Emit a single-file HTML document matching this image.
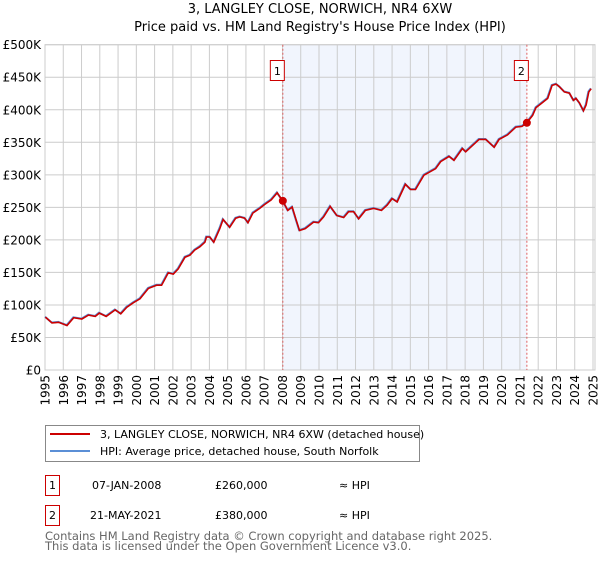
<!DOCTYPE html>
<html><head><meta charset="utf-8"><style>
body{margin:0;background:#fff;font-family:"DejaVu Sans","Liberation Sans",sans-serif;}
svg text{font-family:"DejaVu Sans","Liberation Sans",sans-serif;}
</style></head><body>
<svg id="c" width="600" height="560" viewBox="0 0 600 560" xmlns="http://www.w3.org/2000/svg">
<text x="320" y="13" text-anchor="middle" font-size="13">3, LANGLEY CLOSE, NORWICH, NR4 6XW</text>
<text x="320" y="31" text-anchor="middle" font-size="13">Price paid vs. HM Land Registry's House Price Index (HPI)</text>
<g id="plot"></g>
<g>
<rect x="45.5" y="425.5" width="374" height="36" fill="#fff" stroke="#888"/>
<line x1="50" y1="434" x2="90" y2="434" stroke="#cc0000" stroke-width="2"/>
<text x="100" y="438" font-size="11">3, LANGLEY CLOSE, NORWICH, NR4 6XW (detached house)</text>
<line x1="50" y1="451" x2="90" y2="451" stroke="#5b8fd6" stroke-width="2"/>
<text x="100" y="455" font-size="11">HPI: Average price, detached house, South Norfolk</text>
</g>
<g font-size="11">
<rect x="45.5" y="475.5" width="14" height="20" fill="none" stroke="#cc0000"/>
<text x="52.5" y="489" text-anchor="middle">1</text>
<text x="92" y="489">07-JAN-2008</text>
<text x="215" y="489">£260,000</text>
<text x="339" y="489">≈ HPI</text>
<rect x="45.5" y="505.5" width="14" height="20" fill="none" stroke="#cc0000"/>
<text x="52.5" y="519" text-anchor="middle">2</text>
<text x="90" y="519">21-MAY-2021</text>
<text x="215" y="519">£380,000</text>
<text x="339" y="519">≈ HPI</text>
</g>
<text x="45" y="540" font-size="11.5" fill="#666">Contains HM Land Registry data © Crown copyright and database right 2025.</text>
<text x="45" y="550" font-size="11.5" fill="#666">This data is licensed under the Open Government Licence v3.0.</text>
</svg>
<script>
const years=[1995.0,1995.36,1995.73,1996.18,1996.55,1997.0,1997.36,1997.73,1997.95,1998.33,1998.82,1999.13,1999.45,1999.82,2000.18,2000.64,2001.09,2001.36,2001.73,2002.0,2002.27,2002.64,2002.91,2003.18,2003.45,2003.73,2003.82,2004.0,2004.22,2004.55,2004.73,2005.09,2005.42,2005.64,2005.91,2006.09,2006.36,2006.73,2007.0,2007.36,2007.69,2008.0,2008.27,2008.51,2008.73,2008.91,2009.22,2009.68,2009.95,2010.23,2010.59,2010.96,2011.33,2011.6,2011.88,2012.15,2012.52,2012.97,2013.4,2013.71,2013.98,2014.26,2014.71,2014.99,2015.26,2015.72,2016.36,2016.64,2017.1,2017.37,2017.83,2018.01,2018.74,2019.11,2019.57,2019.84,2020.3,2020.76,2021.09,2021.34,2021.67,2021.86,2022.13,2022.5,2022.74,2022.96,2023.14,2023.41,2023.69,2023.91,2024.05,2024.24,2024.46,2024.6,2024.75,2024.88];
const hpiValues=[82,73,74,69,81,79,85,83,88,83,93,87,97,104,110,126,131,131,150,148,156,174,177,185,190,197,205,205,197,218,232,220,234,236,234,227,242,249,255,262,273,260,246,251,231,215,218,228,227,236,252,238,235,244,244,233,246,249,246,254,264,259,286,278,278,300,310,321,329,323,341,336,355,355,343,355,362,374,375,380,392,404,410,418,438,440,436,428,426,415,418,411,399,408,428,433];
const saleYears=[2008.02,2021.38];
const saleValues=[260,380];
const saleLabels=["1","2"];
const yTicks=[0,50,100,150,200,250,300,350,400,450,500];
const yTickLabels=["£0","£50K","£100K","£150K","£200K","£250K","£300K","£350K","£400K","£450K","£500K"];
const xTicks=[1995,1996,1997,1998,1999,2000,2001,2002,2003,2004,2005,2006,2007,2008,2009,2010,2011,2012,2013,2014,2015,2016,2017,2018,2019,2020,2021,2022,2023,2024,2025];

const NS="http://www.w3.org/2000/svg";
const L=45,R=593,T=44.7,B=370;
const X=y=>L+(y-1995)/30*(R-L);
const Y=v=>B-v/500*(B-T);
const g=document.getElementById('plot');
function mk(t,a,p){const e=document.createElementNS(NS,t);for(const k in a)e.setAttribute(k,a[k]);(p||g).appendChild(e);return e;}
const shade=mk('rect',{x:X(saleYears[0]),y:T,width:X(saleYears[1])-X(saleYears[0]),height:B-T,fill:'#eef3fc',opacity:0.8});


yTicks.forEach((v,i)=>{
 const l=mk('line',{x1:L,x2:R+2,y1:Y(v),y2:Y(v),stroke:'#ccc'});
 
 
 const t=mk('text',{x:L-4,y:Y(v)+4.5,'text-anchor':'end','font-size':12});
 t.textContent=yTickLabels[i];
 
 
});
xTicks.forEach(yr=>{
 const l=mk('line',{x1:X(yr),x2:X(yr),y1:T,y2:B,stroke:'#ccc'});
 
 
 const t=mk('text',{x:0,y:0,'text-anchor':'end','font-size':12,transform:`translate(${X(yr)+4.5},${B+5}) rotate(-90)`});
 t.textContent=yr;
 
 
});
const frame=mk('rect',{x:L,y:T,width:R-L+2,height:B-T,fill:'none',stroke:'#ccc'});


saleYears.forEach((yr,i)=>{
 const l=mk('line',{x1:X(yr),x2:X(yr),y1:T,y2:B,stroke:'#e06060','stroke-dasharray':'2,2'});
 
 
 const r=mk('rect',{x:X(yr)-12.5,y:60.5,width:14,height:20,fill:'#fff',stroke:'#cc0000'});
 
 
 const t=mk('text',{x:X(yr)-5.5,y:75,'text-anchor':'middle','font-size':11});
 t.textContent=saleLabels[i];
 
 
});
const pts=years.map((y,i)=>X(y).toFixed(1)+','+Y(hpiValues[i]).toFixed(1)).join(' ');
const hpi=mk('polyline',{points:pts,fill:'none',stroke:'#5b8fd6','stroke-width':2});


const prop=mk('polyline',{points:pts,fill:'none',stroke:'#cc0000','stroke-width':1.6,transform:'translate(0.4,0.4)'});


saleYears.forEach((yr,i)=>{
 const c=mk('circle',{cx:X(yr),cy:Y(saleValues[i]),r:4,fill:'#cc0000'});
 
 
});
</script>
</body></html>
